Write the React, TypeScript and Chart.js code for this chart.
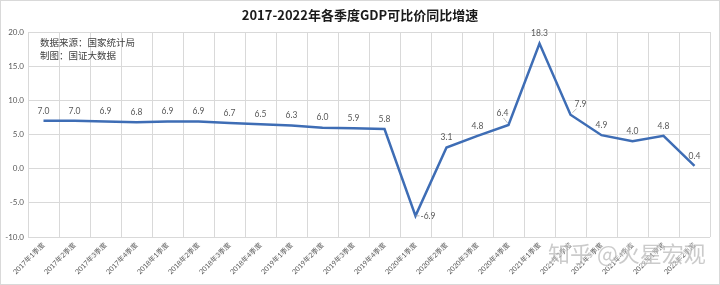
import React, { useEffect, useRef } from "react";
import { Chart, registerables } from "chart.js";

Chart.register(...registerables);

const title = "2017-2022年各季度GDP可比价同比增速";
const noteLines = ["数据来源：国家统计局", "制图：国证大数据"];
const watermark = "知乎 @火星宏观";

const quarters = [
  "2017年1季度", "2017年2季度", "2017年3季度", "2017年4季度",
  "2018年1季度", "2018年2季度", "2018年3季度", "2018年4季度",
  "2019年1季度", "2019年2季度", "2019年3季度", "2019年4季度",
  "2020年1季度", "2020年2季度", "2020年3季度", "2020年4季度",
  "2021年1季度", "2021年2季度", "2021年3季度", "2021年4季度",
  "2022年1季度", "2022年2季度",
];

const gdpGrowth = [
  7.0, 7.0, 6.9, 6.8,
  6.9, 6.9, 6.7, 6.5,
  6.3, 6.0, 5.9, 5.8,
  -6.9, 3.1, 4.8, 6.4,
  18.3, 7.9, 4.9, 4.0,
  4.8, 0.4,
];

const yMin = -10;
const yMax = 20;
const yStep = 5;

// label placement exceptions (index -> placement)
const labelPlacement: Record<number, string> = {
  12: "right",
  15: "leftLeader",
  17: "rightLeader",
};

const LINE_COLOR = "#3E6DB5";
const TEXT_COLOR = "#595959";
const GRID_COLOR = "#D9D9D9";
const FONT = "Lato, 'Noto Sans CJK SC', sans-serif";
const CJK_FONT = "'Noto Sans CJK SC', sans-serif";

const decorPlugin = {
  id: "decor",
  beforeDraw(chart: any) {
    const { ctx, width, height } = chart;
    ctx.save();
    ctx.fillStyle = "#FFFFFF";
    ctx.fillRect(0, 0, width, height);
    ctx.restore();
  },
  afterDraw(chart: any) {
    const { ctx, width, height } = chart;
    ctx.save();
    ctx.strokeStyle = GRID_COLOR;
    ctx.lineWidth = 1;
    ctx.strokeRect(0.5, 0.5, width - 1, height - 1);

    ctx.fillStyle = "#1a1a1a";
    ctx.font = `bold 13px ${CJK_FONT}`;
    ctx.textAlign = "center";
    ctx.textBaseline = "middle";
    ctx.fillText(title, 360, 15);

    ctx.fillStyle = "#404040";
    ctx.font = `9.5px ${CJK_FONT}`;
    ctx.textAlign = "left";
    noteLines.forEach((t, i) => ctx.fillText(t, 40, 42 + i * 13));

    ctx.font = `22px ${CJK_FONT}`;
    ctx.textAlign = "left";
    ctx.textBaseline = "middle";
    ctx.globalAlpha = 0.45;
    ctx.lineWidth = 3;
    ctx.strokeStyle = "#FFFFFF";
    ctx.strokeText(watermark, 548, 254);
    ctx.fillStyle = "#8c8c8c";
    ctx.fillText(watermark, 548, 254);
    ctx.restore();
  },
  afterDatasetsDraw(chart: any) {
    const { ctx } = chart;
    const meta = chart.getDatasetMeta(0);
    const data = chart.data.datasets[0].data as number[];
    ctx.save();
    ctx.fillStyle = TEXT_COLOR;
    ctx.font = `8.5px ${FONT}`;
    ctx.textBaseline = "middle";
    ctx.textAlign = "center";
    meta.data.forEach((pt: any, i: number) => {
      const txt = data[i].toFixed(1);
      const p = labelPlacement[i];
      if (p === "right") {
        ctx.textAlign = "left";
        ctx.fillText(txt, pt.x + 5, pt.y);
        ctx.strokeStyle = "#A6A6A6";
        ctx.lineWidth = 0.8;
        ctx.beginPath();
        ctx.moveTo(pt.x, pt.y);
        ctx.lineTo(pt.x + 4, pt.y);
        ctx.stroke();
      } else if (p === "leftLeader") {
        ctx.textAlign = "center";
        ctx.fillText(txt, pt.x - 6, pt.y - 12);
        ctx.strokeStyle = "#A6A6A6";
        ctx.lineWidth = 0.8;
        ctx.beginPath();
        ctx.moveTo(pt.x - 1, pt.y - 2);
        ctx.lineTo(pt.x - 5, pt.y - 7);
        ctx.stroke();
      } else if (p === "rightLeader") {
        ctx.textAlign = "center";
        ctx.fillText(txt, pt.x + 10, pt.y - 10);
        ctx.strokeStyle = "#A6A6A6";
        ctx.lineWidth = 0.8;
        ctx.beginPath();
        ctx.moveTo(pt.x + 2, pt.y - 2);
        ctx.lineTo(pt.x + 6, pt.y - 6);
        ctx.stroke();
      } else {
        ctx.textAlign = "center";
        ctx.fillText(txt, pt.x, pt.y - 10);
      }
    });
    ctx.restore();
  },
};

export default function App() {
  const canvasRef = useRef<HTMLCanvasElement | null>(null);

  useEffect(() => {
    document.body.style.margin = "0";
    const canvas = canvasRef.current;
    if (!canvas) return;
    const chart = new Chart(canvas, {
      type: "line",
      data: {
        labels: quarters,
        datasets: [
          {
            data: gdpGrowth,
            borderColor: LINE_COLOR,
            borderWidth: 2.5,
            pointRadius: 0,
            tension: 0,
            fill: false,
          },
        ],
      },
      options: {
        responsive: false,
        animation: false,
        devicePixelRatio: 1,
        layout: { padding: { top: 32, right: 10, left: 0, bottom: 0 } },
        plugins: {
          legend: { display: false },
          title: { display: false },
          tooltip: { enabled: false },
        },
        scales: {
          x: {
            offset: true,
            grid: { offset: true, color: GRID_COLOR, drawTicks: false },
            border: { display: false },
            ticks: {
              autoSkip: false,
              minRotation: 45,
              maxRotation: 45,
              padding: 4,
              color: TEXT_COLOR,
              font: { size: 7, family: FONT },
            },
            afterFit(scale: any) {
              scale.height = 48;
            },
          },
          y: {
            min: yMin,
            max: yMax,
            grid: { color: GRID_COLOR, drawTicks: false },
            border: { display: false },
            ticks: {
              stepSize: yStep,
              padding: 4,
              color: TEXT_COLOR,
              font: { size: 8, family: FONT },
              callback: (v: any) => Number(v).toFixed(1),
            },
            afterFit(scale: any) {
              scale.width = 28;
            },
          },
        },
      },
      plugins: [decorPlugin],
    });
    return () => chart.destroy();
  }, []);

  return (
    <div style={{ width: 720, height: 285 }}>
      <canvas ref={canvasRef} width={720} height={285} style={{ display: "block" }} />
    </div>
  );
}
